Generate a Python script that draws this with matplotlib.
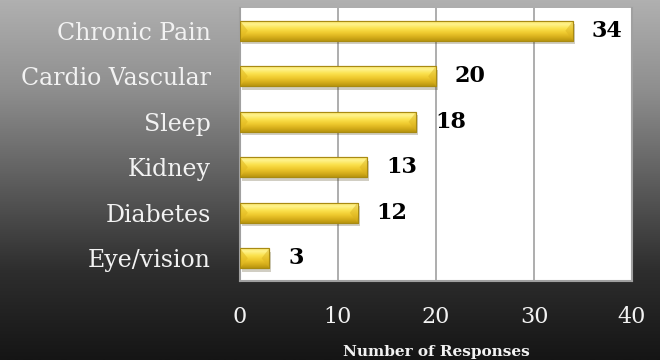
import numpy as np
import matplotlib.pyplot as plt
import matplotlib.patheffects as pe
from matplotlib.colors import LinearSegmentedColormap

categories = ["Eye/vision", "Diabetes", "Kidney", "Sleep", "Cardio Vascular", "Chronic Pain"]
responses = [3, 12, 13, 18, 20, 34]
x_ticks = [0, 10, 20, 30, 40]

SERIF = "DejaVu Serif"

fig = plt.figure(figsize=(6.6, 3.6), dpi=100)

# dark vertical gradient behind everything
bg = fig.add_axes([0, 0, 1, 1], zorder=-10)
grad = np.linspace(0, 1, 256).reshape(-1, 1)
bg_cmap = LinearSegmentedColormap.from_list(
    "bg", ["#b0b0b0", "#8e8e8e", "#5e5e5e", "#2e2e2e", "#151515"])
bg.imshow(grad, aspect="auto", cmap=bg_cmap, extent=[0, 1, 0, 1], origin="upper")
bg.axis("off")

ax = fig.add_axes([240 / 660, 79 / 360, 392 / 660, 273 / 360])
ax.set_facecolor("white")

ypos = np.arange(len(categories))
bars = ax.barh(ypos, responses, height=0.44, color="#f3d33a",
               edgecolor="#a88a12", linewidth=0.8, zorder=3)

bar_cmap = LinearSegmentedColormap.from_list(
    "bar", ["#f6dc5a", "#fff38c", "#fbe24e", "#f0cb30", "#d8b01c", "#b8940e"])
for b in bars:
    b.set_path_effects([pe.SimplePatchShadow(offset=(1.5, -2.5), alpha=0.25),
                        pe.Normal()])
    x0, y0, w, h = b.get_x(), b.get_y(), b.get_width(), b.get_height()
    im = ax.imshow(grad, aspect="auto", cmap=bar_cmap,
                   extent=[x0, x0 + w, y0, y0 + h], origin="upper", zorder=3.5)
    im.set_clip_path(b)
    # bevelled ends
    d = min(0.8, w / 3)
    ax.fill([x0, x0 + d, x0], [y0, y0 + h / 2, y0 + h], color="#e2ba22",
            alpha=0.6, zorder=3.6, lw=0)
    ax.fill([x0 + w, x0 + w - d, x0 + w], [y0 + h, y0 + h / 2, y0],
            color="#d8b020", alpha=0.45, zorder=3.6, lw=0)
    ax.add_patch(plt.Rectangle((x0, y0), w, h, fill=False,
                               edgecolor="#a88a12", lw=0.8, zorder=3.7))

for i, v in enumerate(responses):
    ax.text(v + 1.9, i, str(v), va="center", ha="left", fontsize=16,
            fontweight="bold", family=SERIF, color="black", zorder=5)

ax.set_xlim(0, 40)
ax.set_ylim(-0.5, len(categories) - 0.5)
ax.set_xticks(x_ticks)
ax.set_xticklabels([str(t) for t in x_ticks], family=SERIF, fontsize=16, color="#f2f2f2")
ax.set_yticks(ypos)
ax.set_yticklabels(categories, family=SERIF, fontsize=17, color="#f2f2f2")
ax.tick_params(axis="x", length=0, pad=18)
ax.tick_params(axis="y", length=0, pad=21)

ax.grid(axis="x", color="#a0a0a0", linewidth=1.2)
ax.set_axisbelow(True)
ax.spines["top"].set_visible(False)
for s in ["left", "bottom", "right"]:
    ax.spines[s].set_color("#a0a0a0")
    ax.spines[s].set_linewidth(1.5)

fig.text(436 / 660, 1 - 352 / 360, "Number of Responses", ha="center", va="center",
         fontsize=11, fontweight="bold", family=SERIF, color="#f2f2f2")

plt.savefig("out.png", dpi=100)
